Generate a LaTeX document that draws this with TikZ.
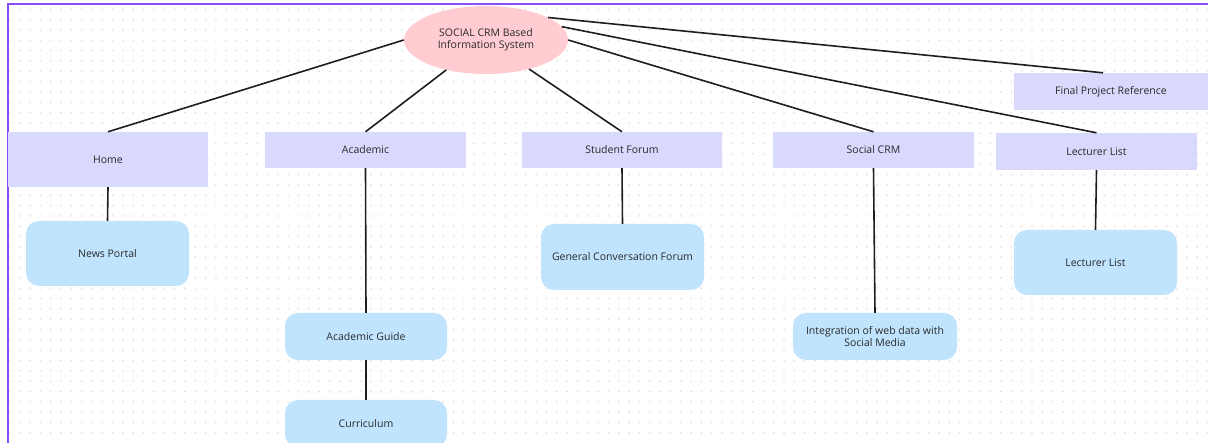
\documentclass[tikz,border=0pt]{standalone}
\usepackage{fontspec}
\setmainfont{Open Sans}
\usetikzlibrary{shapes.geometric}
\definecolor{framepurple}{HTML}{8A4DFA}
\definecolor{dotgrey}{HTML}{E2E2E2}
\definecolor{lav}{HTML}{D8D9FD}
\definecolor{skyb}{HTML}{C0E4FE}
\definecolor{pinkel}{HTML}{FFCCD2}
\definecolor{txt}{HTML}{2A2A2A}
\definecolor{lin}{HTML}{1E1E1E}
\tikzset{
  topbox/.style={fill=lav, draw=none, inner sep=0pt, font=\fontsize{10.5}{12.5}\selectfont, text=txt, align=center},
  subbox/.style={fill=skyb, draw=none, rounded corners=13pt, inner sep=0pt, font=\fontsize{10.5}{12.5}\selectfont, text=txt, align=center},
  conn/.style={draw=lin, line width=1.6pt}
}
\begin{document}
\begin{tikzpicture}[x=1pt,y=-1pt]
\useasboundingbox (0,0) rectangle (1208,443);
\clip (0,0) rectangle (1208,443);
\fill[white] (0,0) rectangle (1208,443);
% dot grid
\foreach \i in {0,...,116}{
  \foreach \j in {0,...,42}{
    \fill[dotgrey] (9.3+10.33*\i, 9.3+10.33*\j) circle (1);
  }
}
% frame
\draw[framepurple, line width=2pt] (7.5,445) -- (7.5,4) -- (1210,4);
% nodes
\node[ellipse, fill=pinkel, draw=none, minimum width=164, minimum height=68, inner sep=0pt, font=\fontsize{10.5}{12.5}\selectfont, text=txt, align=center] (root) at (486,40) {SOCIAL CRM Based\\Information System};
\node[topbox, minimum width=200, minimum height=55] (home) at (108,159.5) {Home};
\node[topbox, minimum width=201, minimum height=36] (acad) at (365.5,150) {Academic};
\node[topbox, minimum width=200, minimum height=36] (forum) at (622,150) {Student Forum};
\node[topbox, minimum width=201, minimum height=36] (scrm) at (873.5,150) {Social CRM};
\node[topbox, minimum width=201, minimum height=37] (lect) at (1096.5,151.5) {Lecturer List};
\node[topbox, minimum width=194, minimum height=37] (fpr) at (1111,91.5) {Final Project Reference};
\node[subbox, minimum width=163, minimum height=65] (news) at (107.5,253.5) {News Portal};
\node[subbox, minimum width=162, minimum height=47] (guide) at (366,336.5) {Academic Guide};
\node[subbox, minimum width=162, minimum height=47] (curr) at (366,423.5) {Curriculum};
\node[subbox, minimum width=163, minimum height=66] (gcf) at (622.5,257) {General Conversation Forum};
\node[subbox, minimum width=164, minimum height=47] (integ) at (875,336.5) {Integration of web data with\\Social Media};
\node[subbox, minimum width=163, minimum height=65] (lect2) at (1095.5,262.5) {Lecturer List};
% connectors
\draw[conn] (root.180) -- (home.north);
\draw[conn] (root.217) -- (acad.north);
\draw[conn] (root.326) -- (forum.north);
\draw[conn] (root.0) -- (scrm.north);
\draw[conn] (root.10) -- (lect.north);
\draw[conn] (root.20) -- ([xshift=-8]fpr.north);
\draw[conn] (home.south) -- (news.north);
\draw[conn] (acad.south) -- (guide.north);
\draw[conn] (guide.south) -- (curr.north);
\draw[conn] (forum.south) -- (gcf.north);
\draw[conn] (scrm.south) -- (integ.north);
\draw[conn] (lect.south) -- (lect2.north);
\end{tikzpicture}
\end{document}
